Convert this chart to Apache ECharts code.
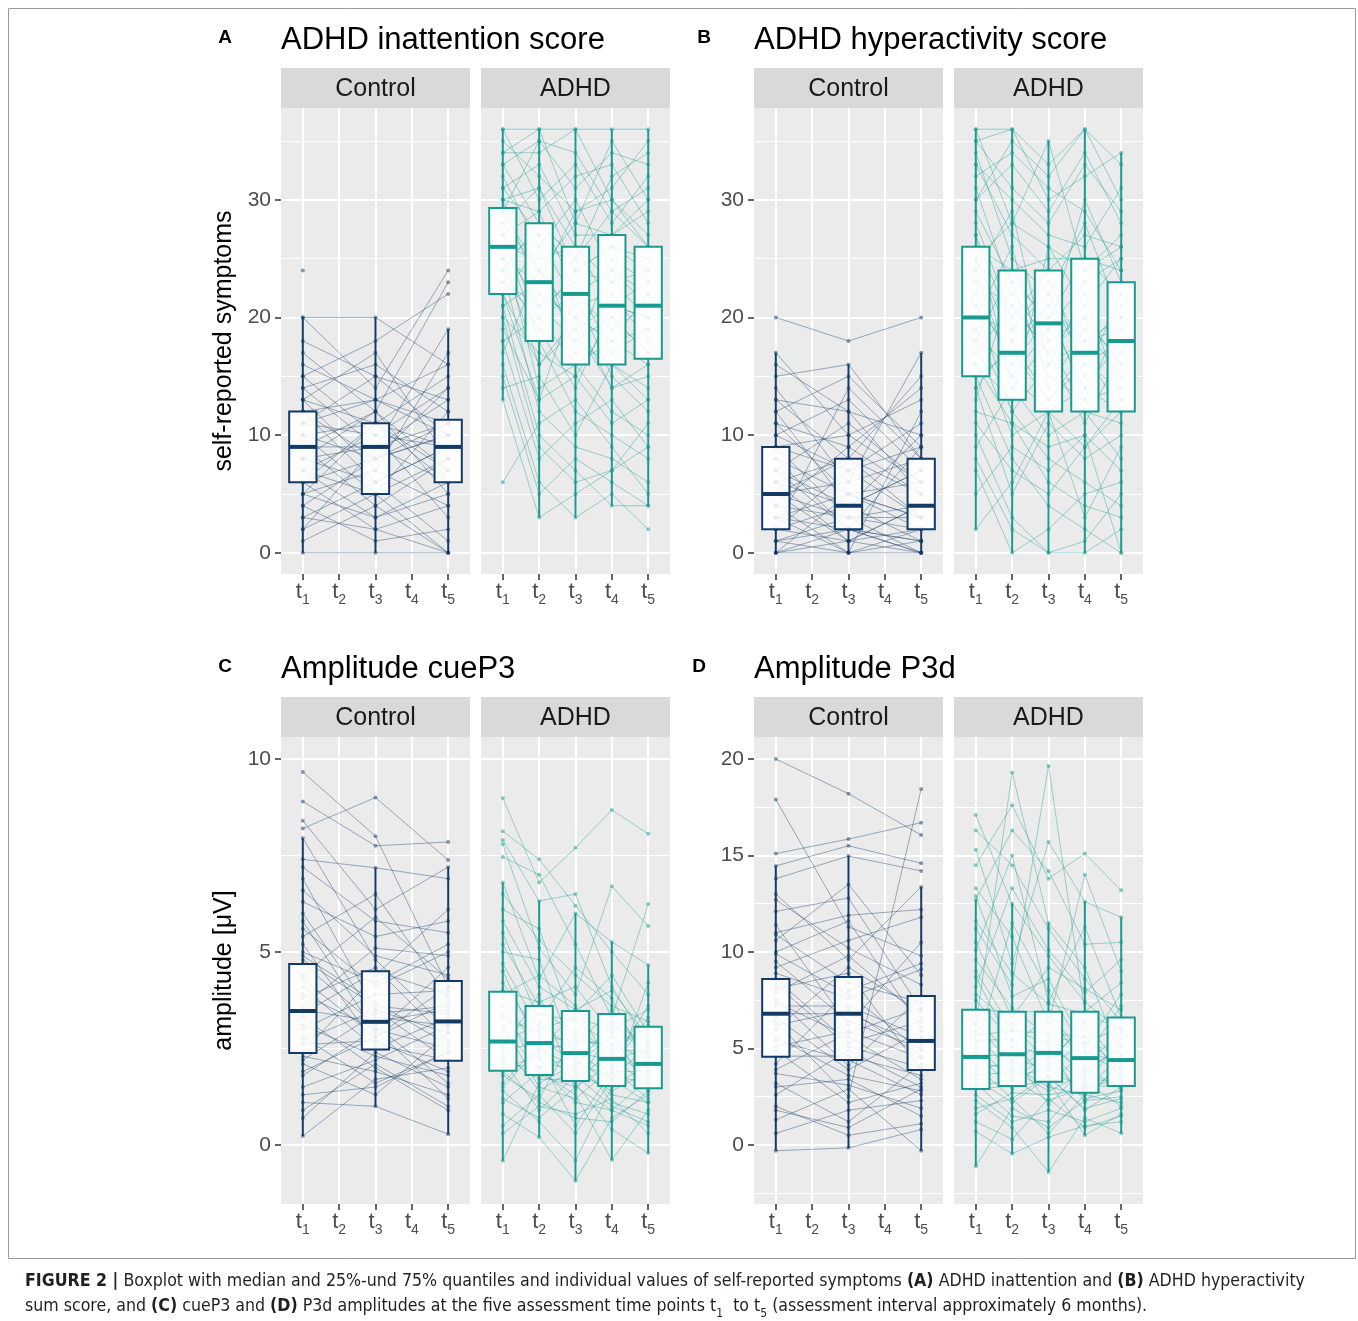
<!DOCTYPE html>
<html>
<head>
<meta charset="utf-8">
<script src="https://cdn.jsdelivr.net/npm/echarts@6/dist/echarts.min.js"></script>
<style>
html, body { margin: 0; padding: 0; background: #fff; }
#chart { width: 1358px; height: 1321px; }
</style>
</head>
<body>
<div id="chart"></div>
<script>
var chart = echarts.init(document.getElementById('chart'));

// time points
var timeLabels = [1, 2, 3, 4, 5];
var ctrlTimes = [1, 3, 5];
var adhdTimes = [1, 2, 3, 4, 5];

// box stats per time point: [min, Q1, median, Q3, max]
var inattCtrlBox = [[0, 6, 9, 12, 20], [0, 5, 9, 11, 20], [0, 6, 9, 11.3, 19]];
var inattAdhdBox = [[13, 22, 26, 29.3, 36], [3, 18, 23, 28, 36], [3, 16, 22, 26, 36], [4, 16, 21, 27, 36], [4, 16.5, 21, 26, 36]];
var hyperCtrlBox = [[0, 2, 5, 9, 17], [0, 2, 4, 8, 16], [0, 2, 4, 8, 17]];
var hyperAdhdBox = [[2, 15, 20, 26, 36], [0, 13, 17, 24, 36], [0, 12, 19.5, 24, 35], [0, 12, 17, 25, 36], [0, 12, 18, 23, 34]];
var cueCtrlBox = [[0.23, 2.38, 3.47, 4.69, 7.95], [1.0, 2.47, 3.19, 4.5, 7.18], [0.28, 2.18, 3.2, 4.25, 7.2]];
var cueAdhdBox = [[-0.41, 1.92, 2.68, 3.97, 6.8], [0.2, 1.81, 2.64, 3.6, 6.32], [-0.93, 1.66, 2.38, 3.47, 6.0], [-0.39, 1.53, 2.23, 3.39, 5.26], [-0.21, 1.47, 2.1, 3.06, 4.66]];
var p3dCtrlBox = [[-0.3, 4.57, 6.8, 8.6, 14.46], [-0.15, 4.4, 6.8, 8.7, 14.97], [-0.3, 3.88, 5.39, 7.72, 13.37]];
var p3dAdhdBox = [[-1.1, 2.9, 4.56, 7.0, 12.7], [-0.46, 3.06, 4.7, 6.9, 12.5], [-1.4, 3.27, 4.77, 6.9, 11.5], [0.5, 2.7, 4.5, 6.9, 12.6], [0.6, 3.06, 4.4, 6.6, 11.8]];

// individual values (one row per participant)
var inattCtrl = [
  [24, null, null], [20, 20, 16], [20, 14, 24], [17, 12, 23], [15, 18, 22], [14, 9, 19],
  [14, 16, 12], [13, 7, 17], [12, 13, 10], [12, 8, 14], [11, 10, 9], [10, 5, 12],
  [10, 11, 6], [9, 9, 11], [9, 4, 8], [8, 12, 7], [8, 6, 9], [7, 10, 3], [7, 3, 5],
  [6, 8, 10], [6, 2, 0], [5, 7, 4], [4, 1, 2], [3, 6, 1], [2, 9, 6], [1, 4, 0],
  [0, 0, 0], [11, 15, 13], [13, 17, 8], [5, 11, 15],
  [16, 13, 11], [15, 10, 14], [13, 11, 7], [12, 6, 9], [11, 13, 16], [10, 8, 10],
  [9, 12, 5], [8, 9, 13], [7, 5, 8], [6, 11, 9], [5, 3, 6], [4, 8, 11], [3, 2, 4],
  [2, 5, 0], [18, 15, 10]
];
var inattAdhd = [
  [36, 36, 36, 36, 36], [36, 30, 33, 28, 32], [34, 36, 28, 35, 30], [34, 34, 36, 30, 26],
  [33, 28, 25, 32, 34], [32, 26, 30, 24, 22], [31, 33, 27, 27, 29], [30, 22, 20, 18, 16],
  [30, 29, 32, 33, 28], [29, 24, 18, 16, 14], [28, 31, 24, 26, 25], [27, 20, 22, 19, 21],
  [27, 18, 12, 10, 8], [26, 25, 26, 23, 24], [26, 14, 16, 12, 10], [25, 27, 21, 22, 18],
  [25, 23, 29, 30, 27], [24, 19, 14, 21, 20], [24, 12, 9, 8, 6], [23, 21, 23, 17, 19],
  [22, 16, 19, 14, 15], [22, 26, 17, 25, 23], [21, 10, 7, 4, 4], [20, 17, 15, 20, 17],
  [19, 13, 22, 15, 12], [18, 8, 11, 13, 9], [17, 24, 20, 18, 22], [16, 6, 3, 5, 2],
  [14, 15, 10, 16, 13], [13, 3, 5, 7, 11], [6, 11, 13, 9, 5], [29, 35, 31, 34, 33],
  [35, 32, 29, 31, 35], [33, 35, 34, 29, 31], [31, 27, 24, 26, 24], [30, 31, 26, 21, 20],
  [28, 24, 28, 27, 30], [27, 29, 22, 24, 21], [26, 21, 18, 20, 17], [25, 16, 20, 14, 16],
  [24, 28, 25, 29, 26], [23, 20, 16, 18, 19], [22, 13, 15, 11, 13], [21, 23, 19, 21, 23],
  [20, 9, 6, 7, 9], [18, 20, 24, 23, 20], [15, 5, 8, 6, 4]
];
var hyperCtrl = [
  [20, 18, 20], [17, 10, 13], [15, 16, 8], [14, 6, 17], [13, 12, 5], [12, 4, 10],
  [11, 9, 14], [10, 13, 7], [9, 3, 4], [9, 7, 11], [8, 5, 2], [7, 11, 6], [7, 2, 9],
  [6, 8, 3], [6, 4, 1], [5, 6, 8], [5, 1, 4], [5, 3, 0], [4, 9, 5], [4, 0, 2],
  [3, 5, 6], [3, 2, 1], [2, 7, 3], [2, 1, 0], [1, 3, 2], [1, 0, 12], [0, 2, 1],
  [0, 0, 0], [0, 1, 4], [2, 14, 8],
  [16, 12, 10], [13, 8, 15], [11, 5, 3], [10, 7, 9], [9, 10, 6], [8, 2, 0], [7, 4, 7],
  [6, 1, 2], [5, 8, 5], [4, 3, 3], [3, 0, 1], [2, 4, 7], [1, 2, 0], [0, 5, 3], [12, 15, 9]
];
var hyperAdhd = [
  [36, 36, 33, 36, 30], [36, 28, 35, 24, 26], [35, 36, 30, 32, 34], [34, 25, 22, 28, 20],
  [33, 30, 27, 26, 31], [31, 22, 18, 20, 16], [30, 33, 29, 34, 28], [28, 20, 24, 15, 22],
  [27, 14, 10, 12, 8], [26, 24, 25, 25, 24], [25, 18, 21, 18, 19], [24, 29, 16, 22, 13],
  [22, 16, 20, 14, 18], [21, 12, 8, 6, 4], [20, 19, 23, 17, 21], [20, 26, 14, 19, 15],
  [19, 15, 19, 30, 23], [18, 10, 12, 9, 12], [17, 21, 17, 11, 17], [16, 13, 26, 21, 25],
  [15, 8, 4, 2, 0], [15, 17, 13, 16, 14], [14, 5, 11, 8, 10], [13, 23, 15, 13, 20],
  [12, 11, 6, 4, 3], [10, 3, 0, 0, 2], [9, 14, 18, 12, 11], [7, 0, 2, 5, 6],
  [5, 9, 7, 10, 0], [2, 6, 12, 3, 9], [30, 35, 32, 36, 33],
  [35, 31, 28, 33, 29], [33, 27, 24, 27, 26], [32, 34, 31, 29, 24], [29, 23, 20, 25, 22],
  [27, 19, 22, 16, 18], [25, 28, 26, 24, 27], [24, 15, 12, 14, 12], [23, 21, 17, 20, 16],
  [21, 17, 21, 13, 14], [19, 12, 16, 18, 20], [18, 24, 19, 23, 25], [16, 11, 9, 10, 7],
  [14, 18, 13, 17, 12], [11, 7, 5, 9, 13], [8, 2, 0, 1, 5]
];
var cueCtrl = [
  [9.66, 8.0, 4.1], [8.9, 7.75, 7.85], [8.4, 6.1, 7.2], [8.2, 9.0, 7.38], [7.95, 4.8, 3.0],
  [7.4, 7.18, 6.9], [6.9, 3.5, 2.2], [6.3, 5.4, 5.8], [5.8, 2.9, 4.6], [5.4, 6.5, 3.8],
  [5.0, 4.2, 5.2], [4.7, 3.1, 1.6], [4.4, 5.9, 4.3], [4.1, 2.5, 3.3], [3.8, 4.6, 2.7],
  [3.5, 3.2, 3.5], [3.3, 2.0, 0.9], [3.0, 3.9, 4.0], [2.8, 1.6, 2.4], [2.6, 2.7, 1.9],
  [2.4, 4.4, 6.1], [2.1, 1.3, 2.9], [1.8, 3.0, 1.2], [1.5, 2.2, 3.1], [1.1, 1.0, 0.28],
  [0.7, 2.4, 1.5], [0.23, 1.7, 2.0], [4.9, 3.7, 2.6], [3.6, 5.1, 4.9], [2.2, 3.4, 3.6],
  [7.2, 5.8, 5.5], [6.6, 4.9, 4.4], [6.0, 3.3, 3.1], [5.6, 4.1, 5.0], [5.2, 2.6, 2.2],
  [4.8, 3.6, 3.4], [4.3, 2.8, 4.1], [3.9, 3.0, 2.5], [3.4, 4.5, 3.9], [3.1, 2.3, 1.8],
  [2.7, 3.5, 2.9], [2.3, 1.9, 1.3], [1.9, 2.8, 3.7], [1.3, 1.5, 2.4], [0.9, 2.1, 1.0]
];
var cueAdhd = [
  [8.99, 6.8, 7.7, 8.68, 8.06], [8.13, 7.4, 6.2, 5.0, 3.9], [7.9, 6.32, 6.5, 4.1, 2.6],
  [7.8, 5.1, 3.9, 6.7, 5.67], [7.46, 7.0, 5.2, 3.3, 6.24], [6.8, 4.3, 6.0, 5.26, 4.66],
  [6.1, 5.6, 3.0, 2.4, 3.1], [5.5, 3.2, 4.6, 3.8, 2.0], [5.0, 4.8, 2.2, 1.6, 4.2],
  [4.5, 2.5, 3.4, 4.4, 2.9], [4.0, 3.7, 4.1, 2.9, 1.4], [3.6, 1.8, 1.5, 2.1, 3.6],
  [3.3, 2.9, 2.6, 3.5, 2.3], [3.0, 2.0, 1.1, 0.9, 1.7], [2.8, 3.4, 3.2, 2.6, 3.0],
  [2.6, 1.4, 2.0, 1.3, 1.1], [2.4, 2.7, 2.4, 2.2, 2.5], [2.2, 0.9, 1.8, 1.0, 0.6],
  [2.0, 2.3, 0.5, 1.9, 1.9], [1.8, 1.2, 2.9, 2.3, 1.5], [1.6, 2.6, 1.6, 0.4, -0.21],
  [1.4, 0.6, -0.4, 1.5, 2.1], [1.1, 1.9, 1.3, -0.39, 0.9], [0.8, 0.2, -0.93, 0.7, 1.3],
  [0.3, 1.0, 0.8, 1.2, 0.3], [-0.41, 1.6, 2.1, 2.8, 1.6], [3.9, 4.4, 3.6, 2.0, 3.3],
  [2.5, 3.9, 1.4, 3.1, 2.7],
  [6.5, 5.3, 4.4, 3.6, 3.2], [5.8, 4.1, 3.5, 4.0, 2.8], [5.2, 3.6, 2.8, 2.5, 2.4],
  [4.7, 3.0, 3.3, 3.0, 3.5], [4.2, 2.8, 2.1, 1.8, 1.6], [3.8, 2.4, 2.7, 2.6, 2.2],
  [3.4, 2.2, 1.9, 1.4, 1.9], [3.1, 1.5, 1.2, 2.0, 1.2], [2.7, 3.1, 2.5, 1.7, 2.6],
  [2.3, 1.7, 1.7, 2.4, 1.8], [2.1, 2.0, 2.3, 1.1, 0.8], [1.9, 1.1, 0.7, 0.6, 1.4],
  [1.5, 2.5, 2.0, 3.2, 2.3], [1.2, 0.7, 1.5, 0.9, 0.5], [0.5, 1.3, 0.3, 1.7, 1.1]
];
var p3dCtrl = [
  [20.0, 18.2, 16.06], [17.9, 11.3, 9.8], [15.1, 15.85, 16.7], [14.46, 15.5, 14.6],
  [13.8, 14.97, 14.2], [13.0, 9.6, 13.37], [12.1, 12.8, 7.0], [11.4, 6.2, 10.5],
  [10.6, 13.5, 8.8], [9.9, 7.8, 4.9], [9.2, 10.6, 11.8], [8.6, 5.3, 6.4], [8.1, 8.9, 3.9],
  [7.6, 4.1, 7.7], [7.2, 7.2, 5.6], [6.8, 6.8, 5.2], [6.4, 2.5, 18.44], [6.0, 9.2, 6.9],
  [5.6, 3.6, 2.8], [5.1, 5.9, 4.5], [4.6, 4.6, 3.6], [4.2, 8.0, 9.4], [3.7, 3.1, 1.9],
  [3.2, 1.2, 4.2], [2.6, 4.9, 3.0], [2.0, 0.5, 1.1], [1.3, 2.9, -0.3], [0.6, 1.8, 2.3],
  [-0.3, -0.15, 0.8], [11.0, 11.9, 12.2],
  [12.7, 10.2, 8.3], [10.9, 8.4, 7.4], [10.0, 11.6, 6.1], [9.5, 6.4, 5.0], [8.9, 7.6, 9.1],
  [8.3, 5.1, 4.0], [7.9, 9.8, 6.6], [7.4, 5.6, 3.4], [6.6, 3.9, 5.9], [6.2, 7.0, 4.6],
  [5.4, 4.4, 2.6], [4.9, 2.2, 3.2], [3.9, 5.8, 7.1], [3.0, 3.4, 1.5], [1.8, 0.9, 2.9]
];
var p3dAdhd = [
  [17.1, 12.5, 9.8, 7.4, 5.9], [16.3, 14.5, 11.2, 8.6, 6.4], [15.3, 9.4, 15.7, 12.6, 11.8],
  [14.5, 17.6, 13.8, 15.1, 13.2], [13.3, 10.8, 6.3, 14.0, 9.0], [12.9, 7.7, 8.6, 5.1, 7.8],
  [12.7, 16.3, 14.2, 10.4, 10.5], [6.2, 19.3, 11.5, 9.2, 4.5], [11.2, 8.3, 19.64, 6.9, 8.4],
  [10.1, 15.0, 7.4, 11.3, 6.6], [9.0, 6.0, 5.2, 3.8, 5.1], [8.2, 13.3, 10.1, 7.9, 9.6],
  [7.5, 5.4, 4.4, 6.1, 3.4], [7.0, 6.9, 6.9, 4.5, 7.2], [6.3, 4.1, 3.0, 2.6, 4.1],
  [5.7, 5.9, 5.8, 5.6, 3.9], [5.2, 3.3, 4.8, 3.1, 5.5], [4.6, 4.7, 2.1, 4.0, 2.9],
  [4.1, 2.4, 3.6, 1.8, 3.0], [3.6, 3.8, 5.0, 2.2, 4.4], [3.2, 1.5, 1.2, 3.3, 2.0],
  [2.9, 3.06, 3.3, 0.5, 1.6], [2.3, 0.9, -1.4, 1.4, 0.6], [1.6, 2.7, 2.6, 2.9, 3.5],
  [0.7, -0.46, 0.4, 1.0, 1.2], [-1.1, 1.9, 0.9, 2.3, 2.5], [5.0, 11.5, 8.0, 4.8, 4.3],
  [3.9, 4.3, 4.1, 5.3, 6.1],
  [11.6, 8.9, 7.3, 6.8, 6.0], [10.5, 6.6, 9.2, 8.1, 7.0], [9.6, 7.1, 5.6, 5.3, 4.7],
  [8.7, 5.1, 6.7, 4.2, 5.8], [7.8, 6.3, 4.2, 6.4, 4.0], [6.7, 4.4, 5.4, 3.5, 3.2],
  [5.9, 3.6, 3.9, 2.9, 4.6], [5.4, 5.5, 3.1, 4.9, 3.7], [4.8, 2.9, 4.6, 2.4, 2.8],
  [4.3, 3.9, 2.8, 3.7, 5.2], [3.4, 2.2, 3.5, 1.9, 2.4], [3.0, 3.4, 2.3, 3.0, 3.1],
  [2.6, 1.2, 1.8, 1.2, 1.9], [1.9, 2.4, 0.6, 2.6, 2.2], [1.2, 0.3, 2.4, 0.9, 1.5]
];

var navy = '#113a66';
var teal = '#179b90';
var font = 'Liberation Sans, Arial, Helvetica, sans-serif';

var topRow = {top: 108, height: 466, yMin: -1.8, yMax: 37.8, split: 4, ticks: [0, 10, 20, 30]};
var cueRow = {top: 737, height: 467, yMin: -1.53, yMax: 10.57, split: 2, ticks: [0, 5, 10]};
var p3dRow = {top: 737, height: 467, yMin: -3.06, yMax: 21.14, split: 5, ticks: [0, 5, 10, 15, 20]};

var panels = [
  {left: 281, row: topRow, times: ctrlTimes, box: inattCtrlBox, subj: inattCtrl, color: navy, strip: 'Control', yName: 'self-reported symptoms', yLab: true},
  {left: 481, row: topRow, times: adhdTimes, box: inattAdhdBox, subj: inattAdhd, color: teal, strip: 'ADHD'},
  {left: 754, row: topRow, times: ctrlTimes, box: hyperCtrlBox, subj: hyperCtrl, color: navy, strip: 'Control', yLab: true},
  {left: 954, row: topRow, times: adhdTimes, box: hyperAdhdBox, subj: hyperAdhd, color: teal, strip: 'ADHD'},
  {left: 281, row: cueRow, times: ctrlTimes, box: cueCtrlBox, subj: cueCtrl, color: navy, strip: 'Control', yName: 'amplitude [\u03bcV]', yLab: true},
  {left: 481, row: cueRow, times: adhdTimes, box: cueAdhdBox, subj: cueAdhd, color: teal, strip: 'ADHD'},
  {left: 754, row: p3dRow, times: ctrlTimes, box: p3dCtrlBox, subj: p3dCtrl, color: navy, strip: 'Control', yLab: true},
  {left: 954, row: p3dRow, times: adhdTimes, box: p3dAdhdBox, subj: p3dAdhd, color: teal, strip: 'ADHD'}
];
var panelWidth = 189;
var stripHeight = 40;

function boxRenderer(color) {
  return function (params, api) {
    var x = api.value(0);
    var lo = api.coord([x, api.value(1)]);
    var q1 = api.coord([x, api.value(2)]);
    var md = api.coord([x, api.value(3)]);
    var q3 = api.coord([x, api.value(4)]);
    var hi = api.coord([x, api.value(5)]);
    var w = api.size([0.75, 0])[0];
    return {
      type: 'group',
      children: [
        {type: 'line', shape: {x1: lo[0], y1: lo[1], x2: q1[0], y2: q1[1]}, style: {stroke: color, lineWidth: 2}},
        {type: 'line', shape: {x1: q3[0], y1: q3[1], x2: hi[0], y2: hi[1]}, style: {stroke: color, lineWidth: 2}},
        {type: 'rect', shape: {x: md[0] - w / 2, y: q3[1], width: w, height: q1[1] - q3[1]},
          style: {fill: 'rgba(255,255,255,0.88)', stroke: color, lineWidth: 2}},
        {type: 'line', shape: {x1: md[0] - w / 2, y1: md[1], x2: md[0] + w / 2, y2: md[1]}, style: {stroke: color, lineWidth: 4}}
      ]
    };
  };
}

var grids = [], xAxes = [], yAxes = [], series = [], graphics = [];

panels.forEach(function (p, i) {
  var r = p.row;
  grids.push({left: p.left, top: r.top, width: panelWidth, height: r.height,
    show: true, backgroundColor: '#ebebeb', borderWidth: 0, containLabel: false, outerBoundsMode: 'none'});
  xAxes.push({
    type: 'value', gridIndex: i, min: 0.4, max: 5.6, position: 'bottom',
    axisLine: {show: false, onZero: false},
    axisTick: {show: true, length: 6, customValues: timeLabels, lineStyle: {color: '#333', width: 1.5}},
    axisLabel: {
      customValues: timeLabels, showMinLabel: true, showMaxLabel: true, margin: 3,
      formatter: function (v) { return '{t|t}{s|' + v + '}'; },
      rich: {
        t: {fontSize: 22, color: '#4d4d4d', fontFamily: font, lineHeight: 24},
        s: {fontSize: 14, color: '#4d4d4d', fontFamily: font, lineHeight: 30, verticalAlign: 'bottom'}
      }
    },
    splitLine: {show: true, lineStyle: {color: '#ffffff', width: 2}}
  });
  yAxes.push({
    type: 'value', gridIndex: i, min: r.yMin, max: r.yMax, splitNumber: r.split,
    name: p.yName || '', nameLocation: 'middle', nameGap: 44,
    nameTextStyle: {fontSize: 25, color: '#000', fontFamily: font},
    axisLine: {show: false, onZero: false},
    axisTick: {show: !!p.yLab, length: 6, customValues: r.ticks, lineStyle: {color: '#333', width: 1.5}},
    axisLabel: {show: !!p.yLab, customValues: r.ticks, showMinLabel: true, showMaxLabel: true,
      fontSize: 21, color: '#4d4d4d', fontFamily: font, margin: 10},
    splitLine: {show: true, lineStyle: {color: '#ffffff', width: 2}},
    minorTick: {show: false, splitNumber: 2},
    minorSplitLine: {show: true, lineStyle: {color: '#ffffff', width: 1}}
  });

  p.subj.forEach(function (row) {
    var pts = [];
    row.forEach(function (v, j) { if (v !== null) pts.push([p.times[j], v]); });
    series.push({
      type: 'line', xAxisIndex: i, yAxisIndex: i, data: pts,
      symbol: 'circle', symbolSize: 4, showSymbol: true, showAllSymbol: true,
      lineStyle: {color: p.color, width: 1, opacity: 0.4},
      itemStyle: {color: p.color, opacity: 0.5},
      emphasis: {disabled: true}, silent: true, animation: false, z: 2
    });
  });

  series.push({
    type: 'custom', xAxisIndex: i, yAxisIndex: i, z: 5, silent: true, animation: false,
    data: p.box.map(function (b, j) { return [p.times[j]].concat(b); }),
    encode: {x: 0, y: [1, 2, 3, 4, 5]},
    renderItem: boxRenderer(p.color)
  });

  graphics.push({type: 'rect', shape: {x: p.left, y: r.top - stripHeight, width: panelWidth, height: stripHeight},
    style: {fill: '#d9d9d9'}, silent: true});
  graphics.push({type: 'text', x: p.left + panelWidth / 2, y: r.top - stripHeight / 2 + 1,
    style: {text: p.strip, fontSize: 25, fill: '#1a1a1a', fontFamily: font, textAlign: 'center', textVerticalAlign: 'middle'}, silent: true});
});

var titles = [
  {letter: 'A', lx: 225, x: 281, y: 40, text: 'ADHD inattention score'},
  {letter: 'B', lx: 704, x: 754, y: 40, text: 'ADHD hyperactivity score'},
  {letter: 'C', lx: 225, x: 281, y: 669, text: 'Amplitude cueP3'},
  {letter: 'D', lx: 699, x: 754, y: 669, text: 'Amplitude P3d'}
];
titles.forEach(function (t) {
  graphics.push({type: 'text', x: t.lx, y: t.y - 2,
    style: {text: t.letter, fontSize: 19, fontWeight: 'bold', fill: '#000', fontFamily: font, textAlign: 'center', textVerticalAlign: 'middle'}, silent: true});
  graphics.push({type: 'text', x: t.x, y: t.y,
    style: {text: t.text, fontSize: 31, fill: '#000', fontFamily: font, textAlign: 'left', textVerticalAlign: 'middle'}, silent: true});
});

var capFont = 'Liberation Sans Narrow, DejaVu Sans Condensed, Arial Narrow, sans-serif';
var capRich = {
  b: {fontWeight: 'bold', fontSize: 17.6, fontFamily: capFont, fill: '#231f20', lineHeight: 22},
  sub: {fontSize: 12, fontFamily: capFont, fill: '#231f20', lineHeight: 28, verticalAlign: 'bottom'}
};
graphics.push({type: 'text', x: 25, y: 1281, silent: true,
  style: {text: '{b|FIGURE 2 |} Boxplot with median and 25%-und 75% quantiles and individual values of self-reported symptoms {b|(A)} ADHD inattention and {b|(B)} ADHD hyperactivity',
    fontSize: 17.6, fontFamily: capFont, fill: '#231f20', textVerticalAlign: 'middle', lineHeight: 22, rich: capRich}});
graphics.push({type: 'text', x: 25, y: 1306, silent: true,
  style: {text: 'sum score, and {b|(C)} cueP3 and {b|(D)} P3d amplitudes at the five assessment time points t{sub|1}  to t{sub|5} (assessment interval approximately 6 months).',
    fontSize: 17.6, fontFamily: capFont, fill: '#231f20', textVerticalAlign: 'middle', lineHeight: 22, rich: capRich}});

graphics.push({type: 'rect', shape: {x: 8.5, y: 8.5, width: 1347, height: 1250},
  style: {fill: 'none', stroke: '#9a9a9a', lineWidth: 1}, silent: true, z: -1});

chart.setOption({
  animation: false,
  backgroundColor: '#ffffff',
  textStyle: {fontFamily: font},
  grid: grids,
  xAxis: xAxes,
  yAxis: yAxes,
  series: series,
  graphic: {elements: graphics}
});
</script>
</body>
</html>
